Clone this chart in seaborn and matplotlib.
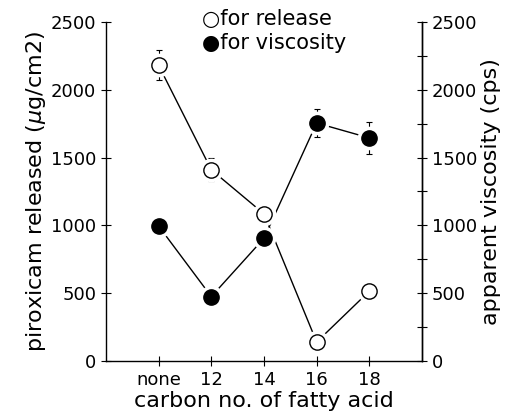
import numpy as np
import matplotlib
matplotlib.use("Agg")
import matplotlib.pyplot as plt
import seaborn as sns
from matplotlib.ticker import MultipleLocator

categories = ["none", "12", "14", "16", "18"]
release = [2180, 1410, 1085, 140, 515]
release_err = [110, 85, 0, 0, 0]
viscosity = [995, 475, 905, 1755, 1645]
viscosity_err = [0, 0, 0, 100, 120]

sns.set_style("ticks")
plt.rcParams['font.family'] = ['DejaVu Sans']
plt.rcParams.update({"text.color": "black", "axes.labelcolor": "black",
                     "xtick.color": "black", "ytick.color": "black"})

fig = plt.figure(figsize=(5.11, 4.12), dpi=100)
ax = fig.add_axes([0.2074, 0.1238, 0.6184, 0.8228])
pos = np.arange(len(categories))

# lignes puis marqueurs (halo blanc pour laisser un petit vide)
sns.lineplot(x=pos, y=release, ax=ax, color="black", lw=1.0)
sns.lineplot(x=pos, y=viscosity, ax=ax, color="black", lw=1.0)
ax.errorbar(pos, release, yerr=release_err, fmt="none", ecolor="black",
            elinewidth=0.8, capsize=2, capthick=0.8)
ax.errorbar(pos, viscosity, yerr=viscosity_err, fmt="none", ecolor="black",
            elinewidth=0.8, capsize=2, capthick=0.8)
ax.plot(pos, release, "o", ms=16, mfc="white", mec="white", zorder=4)
ax.plot(pos, viscosity, "o", ms=16, mfc="white", mec="white", zorder=4)
ax.plot(pos, release, "o", ms=11, mfc="white", mec="black", mew=1.0, zorder=5)
ax.plot(pos, viscosity, "o", ms=11, mfc="black", mec="black", zorder=5)

ax.set_xlim(-1, 5)
ax.set_ylim(0, 2500)
ax.set_xticks(pos)
ax.set_xticklabels(categories)
ax.yaxis.set_major_locator(MultipleLocator(500))
ax.tick_params(direction="inout", length=7, width=0.8, labelsize=13)
ax.set_xlabel("carbon no. of fatty acid", fontsize=16, labelpad=2)
ax.set_ylabel(r"piroxicam released ($\mu$g/cm2)", fontsize=16, labelpad=2)
for s in ["left", "bottom", "right"]:
    ax.spines[s].set_linewidth(1.0)
    ax.spines[s].set_color("black")
ax.spines["top"].set_visible(False)

ax2 = ax.twinx()
ax2.set_ylim(0, 2500)
ax2.yaxis.set_major_locator(MultipleLocator(500))
ax2.yaxis.set_minor_locator(MultipleLocator(250))
ax2.tick_params(which="both", direction="inout", length=7, width=0.8, labelsize=13)
ax2.set_ylabel("apparent viscosity (cps)", fontsize=16, labelpad=3)
ax2.spines["top"].set_visible(False)
ax2.spines["left"].set_visible(False)
ax2.spines["bottom"].set_visible(False)
ax2.spines["right"].set_linewidth(1.0)
ax2.spines["right"].set_color("black")

fig.text(0.395, 0.955, "○for release", fontsize=15, va="center")
fig.text(0.395, 0.895, "●for viscosity", fontsize=15, va="center")

fig.savefig("out.png", dpi=100)
